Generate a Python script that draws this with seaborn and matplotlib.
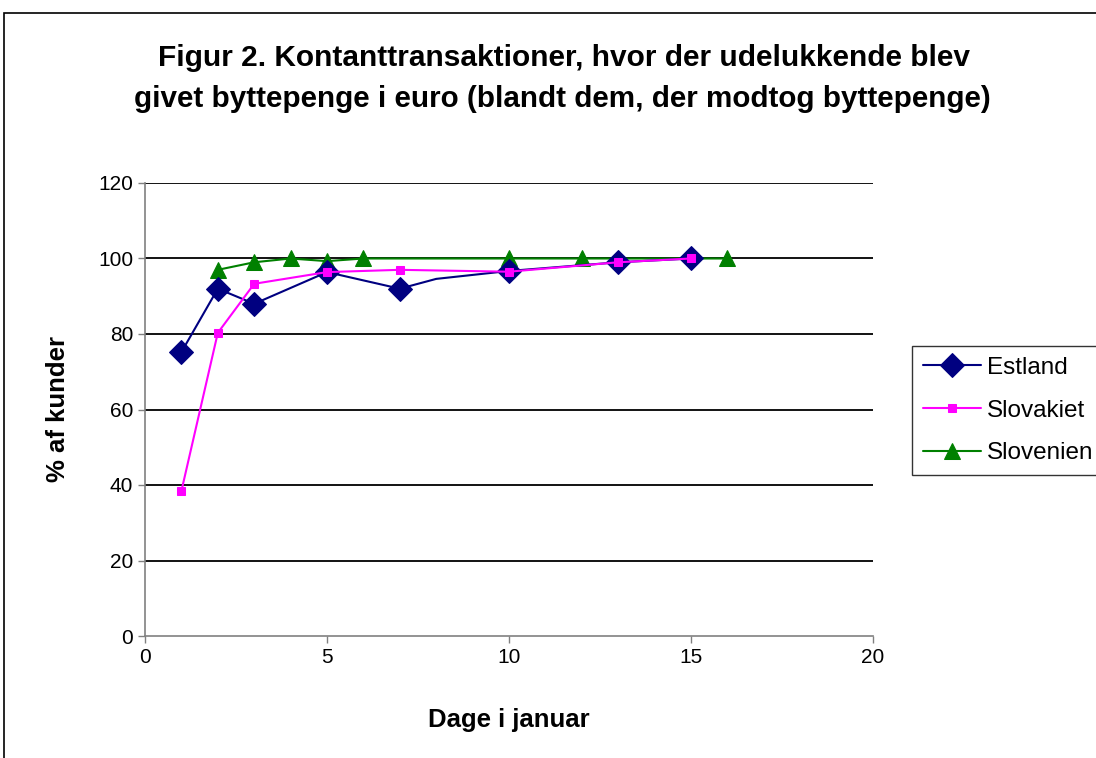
import matplotlib
matplotlib.use("Agg")
import matplotlib.pyplot as plt
import seaborn as sns
import pandas as pd
from matplotlib.patches import Rectangle

# data
est_days = [1, 2, 3, 5, 7, 8, 10, 13, 15]
est_vals = [75.2, 92.0, 88.0, 96.4, 92.0, 94.6, 96.7, 99.0, 100.0]
svk_days = [1, 2, 3, 5, 7, 10, 13, 15]
svk_vals = [38.4, 80.3, 93.3, 96.4, 97.0, 96.5, 99.0, 100.0]
slo_days = [2, 3, 4, 5, 6, 10, 12, 16]
slo_vals = [97.0, 99.0, 100.0, 99.3, 100.0, 100.0, 100.0, 100.0]

sns.set_theme(style="white")
plt.rcParams['font.family'] = ['Liberation Sans', 'DejaVu Sans']
plt.rcParams['text.color'] = 'black'
plt.rcParams['axes.labelcolor'] = 'black'
plt.rcParams['xtick.color'] = 'black'
plt.rcParams['ytick.color'] = 'black'

fig = plt.figure(figsize=(10.96, 7.58), dpi=100)
ax = fig.add_axes([145/1096, 1 - 636/758, (873-145)/1096, (636-183)/758])

est = pd.DataFrame({"dag": est_days, "pct": est_vals})
svk = pd.DataFrame({"dag": svk_days, "pct": svk_vals})
slo = pd.DataFrame({"dag": slo_days, "pct": slo_vals})

sns.lineplot(data=est, x="dag", y="pct", ax=ax, color="#000080", marker="D",
             markersize=12, markeredgecolor="#000080", linewidth=1.5,
             markevery=[0, 1, 2, 3, 4, 6, 7, 8], label="Estland", zorder=3)
sns.lineplot(data=svk, x="dag", y="pct", ax=ax, color="#FF00FF", marker="s",
             markersize=5.5, markeredgecolor="#FF00FF", linewidth=1.5,
             label="Slovakiet", zorder=4)
sns.lineplot(data=slo, x="dag", y="pct", ax=ax, color="#008000", marker="^",
             markersize=11, markeredgecolor="#008000", linewidth=1.5,
             label="Slovenien", zorder=2)

ax.set_xlim(0, 20)
ax.set_ylim(0, 120)
ax.set_xticks([0, 5, 10, 15, 20])
ax.set_yticks(range(0, 121, 20))
for yv in range(20, 121, 20):
    ax.axhline(yv, color="black", linewidth=1.3, zorder=1)

for s in ["top", "right"]:
    ax.spines[s].set_visible(False)
for s in ["left", "bottom"]:
    ax.spines[s].set_color("#808080")
    ax.spines[s].set_linewidth(1.2)

ax.tick_params(axis="both", labelsize=15, labelcolor="black", length=5, width=1,
               direction="out", bottom=True, left=True, color="#808080")

ax.set_xlabel("Dage i januar", fontsize=18.5, fontweight="bold", labelpad=30)
ax.set_ylabel("% af kunder", fontsize=18.5, fontweight="bold", labelpad=20)

fig.text(0.515, 1 - 58/758, "Figur 2. Kontanttransaktioner, hvor der udelukkende blev",
         ha="center", va="center", fontsize=21.5, fontweight="bold")
fig.text(0.513, 1 - 99/758, "givet byttepenge i euro (blandt dem, der modtog byttepenge)",
         ha="center", va="center", fontsize=21.3, fontweight="bold")

leg = ax.legend(loc="upper left", bbox_to_anchor=(912/1096, 1 - 346/758),
                bbox_transform=fig.transFigure, frameon=True, fancybox=False,
                fontsize=17.5, handlelength=2.4, borderpad=0.45, labelspacing=0.85,
                borderaxespad=0, handletextpad=0.25)
leg.get_frame().set_edgecolor("black")
leg.get_frame().set_linewidth(1)

fig.patches.append(Rectangle((4/1096, -0.05), 1.1, 1 - 13/758 + 0.05,
                             transform=fig.transFigure, fill=False,
                             edgecolor="black", linewidth=1.2))

fig.savefig("out.png", dpi=100)
